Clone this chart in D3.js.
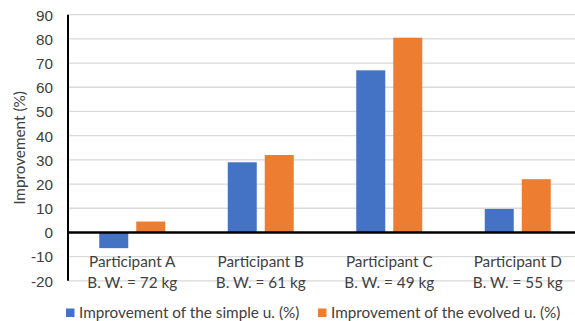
<!DOCTYPE html>
<html lang="en">
<head>
  <meta charset="UTF-8">
  <title>Improvement per participant</title>
  <style>
    body { margin: 0; background: #fff; }
    svg { display: block; font-family: Lato, "Liberation Sans", sans-serif; }
    .grid line { stroke: #d9d9d9; stroke-width: 1.3; }
    .tick text, .cat text, .legend text { fill: #404040; font-size: 15.3px; }
  </style>
</head>
<body>
  <script src="https://d3js.org/d3.v7.min.js"></script>
  <script>
    // chart data
    const participants = ['Participant A', 'Participant B', 'Participant C', 'Participant D'];
    const bodyWeights = ['B. W. = 72 kg', 'B. W. = 61 kg', 'B. W. = 49 kg', 'B. W. = 55 kg'];
    const seriesNames = ['Improvement of the simple u. (%)', 'Improvement of the evolved u. (%)'];
    const simpleValues = [-6.5, 29, 67, 9.7];
    const evolvedValues = [4.5, 32, 80.5, 22];
    const yTicks = [-20, -10, 0, 10, 20, 30, 40, 50, 60, 70, 80, 90];
    const colors = ['#4472c4', '#ed7d31'];

    const WIDTH = 575;
    const HEIGHT = 321;

    const svg = d3.select('body').append('svg')
      .attr('width', WIDTH)
      .attr('height', HEIGHT);

    const scaleY = d3.scaleLinear().domain([-20, 90]).range([280.8, 14.7]);
    const scaleX = d3.scaleBand().domain(participants).range([68, 582]).padding(0);
    const scaleSeries = d3.scaleBand().domain(seriesNames)
      .range([0, scaleX.bandwidth()])
      .paddingInner(0.216)
      .paddingOuter(0.845);

    // gridlines
    svg.append('g')
      .attr('class', 'grid')
      .selectAll('line')
      .data(yTicks.filter(d => d !== 0))
      .join('line')
        .attr('x1', 68)
        .attr('x2', WIDTH)
        .attr('y1', d => scaleY(d))
        .attr('y2', d => scaleY(d));

    // y axis labels (plain hyphen for negatives, like the original)
    const yAxis = d3.axisLeft(scaleY)
      .tickValues(yTicks)
      .tickFormat(d => String(d))
      .tickSize(0)
      .tickPadding(15);
    svg.append('g')
      .attr('class', 'y axis')
      .attr('transform', 'translate(68,0)')
      .call(yAxis)
      .call(g => g.select('.domain').remove())
      .call(g => g.selectAll('text').attr('dy', '0.35em'));

    // bars
    const rows = participants.map((p, i) => ({p, values: [simpleValues[i], evolvedValues[i]]}));
    svg.append('g')
      .selectAll('g')
      .data(rows)
      .join('g')
        .attr('transform', d => `translate(${scaleX(d.p)},0)`)
      .selectAll('rect')
      .data(d => d.values.map((v, k) => ({name: seriesNames[k], v, k})))
      .join('rect')
        .attr('x', d => scaleSeries(d.name))
        .attr('width', scaleSeries.bandwidth())
        .attr('y', d => scaleY(Math.max(0, d.v)))
        .attr('height', d => Math.abs(scaleY(d.v) - scaleY(0)))
        .attr('fill', d => colors[d.k]);

    // axis lines
    svg.append('line')
      .attr('x1', 68).attr('x2', WIDTH)
      .attr('y1', scaleY(0)).attr('y2', scaleY(0))
      .attr('stroke', '#000').attr('stroke-width', 2.5);
    svg.append('line')
      .attr('x1', 68).attr('x2', 68)
      .attr('y1', scaleY(90)).attr('y2', scaleY(-20))
      .attr('stroke', '#000').attr('stroke-width', 2);

    // category labels (two lines)
    const cat = svg.append('g').attr('class', 'cat')
      .selectAll('text')
      .data(participants)
      .join('text')
        .attr('text-anchor', 'middle')
        .attr('x', d => scaleX(d) + scaleX.bandwidth() / 2);
    cat.append('tspan').attr('y', 266.5).text(d => d);
    cat.append('tspan')
      .attr('x', d => scaleX(d) + scaleX.bandwidth() / 2)
      .attr('y', 288)
      .text((d, i) => bodyWeights[i]);

    // y axis title
    svg.append('text')
      .attr('transform', 'translate(25,148) rotate(-90)')
      .attr('text-anchor', 'middle')
      .attr('fill', '#404040')
      .style('font-size', '15.3px')
      .text('Improvement (%)');

    // legend
    const legendX = [66, 318];
    const legend = svg.append('g').attr('class', 'legend')
      .selectAll('g')
      .data(seriesNames)
      .join('g')
        .attr('transform', (d, i) => `translate(${legendX[i]},313)`);
    legend.append('rect')
      .attr('x', 0).attr('y', -4.5)
      .attr('width', 8.5).attr('height', 8.5)
      .attr('fill', (d, i) => colors[i]);
    legend.append('text')
      .attr('x', 13)
      .attr('dy', '0.35em')
      .text(d => d);
  </script>
</body>
</html>
